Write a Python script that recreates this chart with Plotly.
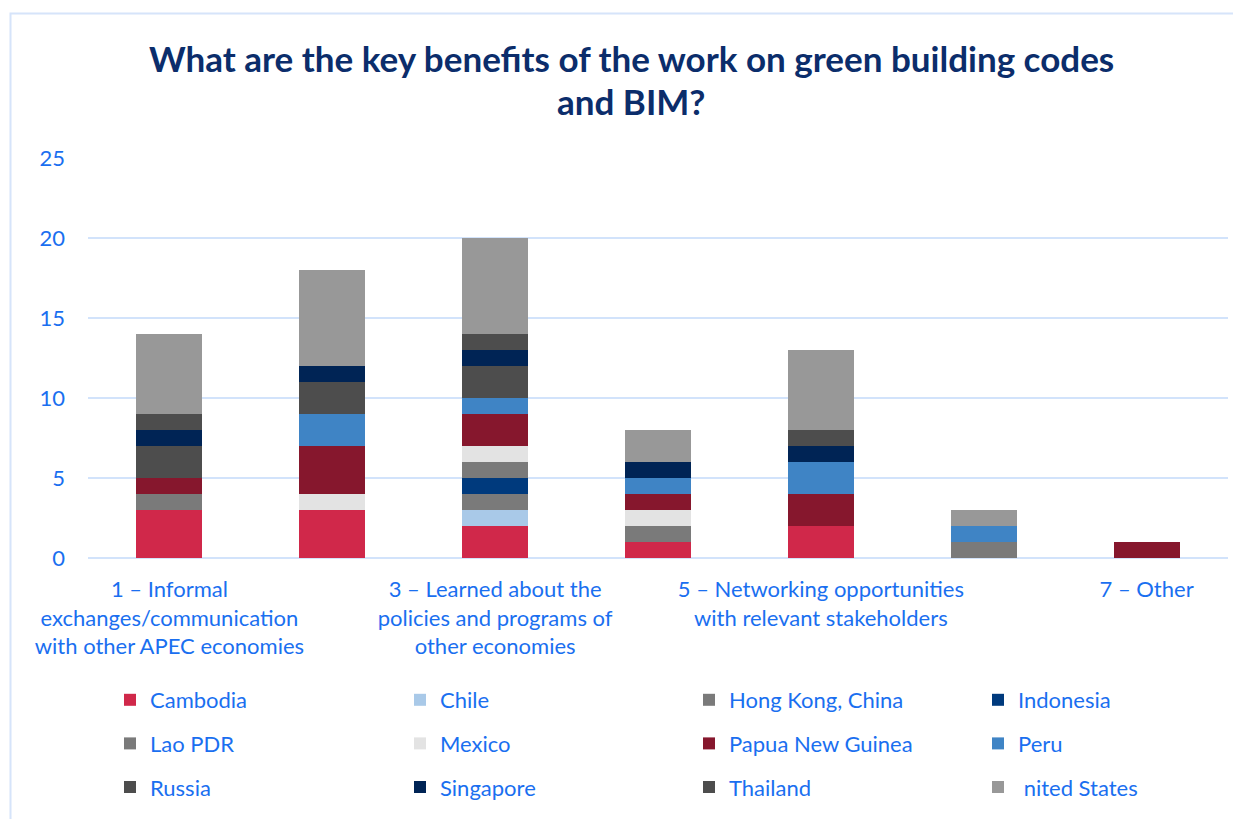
import plotly.graph_objects as go

categories = [
    "1 – Informal exchanges/communication with other APEC economies",
    "2",
    "3 – Learned about the policies and programs of other economies",
    "4",
    "5 – Networking opportunities with relevant stakeholders",
    "6",
    "7 – Other",
]
tick_labels = [
    "1 – Informal<br>exchanges/communication<br>with other APEC economies",
    "",
    "3 – Learned about the<br>policies and programs of<br>other economies",
    "",
    "5 – Networking opportunities<br>with relevant stakeholders",
    "",
    "7 – Other",
]
title_lines = ["What are the key benefits of the work on green building codes", "and BIM?"]

series_names = ["Cambodia", "Chile", "Hong Kong, China", "Indonesia", "Lao PDR", "Mexico",
                "Papua New Guinea", "Peru", "Russia", "Singapore", "Thailand", " nited States"]

cambodia  = [3, 3, 2, 1, 2, 0, 0]
chile     = [0, 0, 1, 0, 0, 0, 0]
hongkong  = [1, 0, 1, 1, 0, 1, 0]
indonesia = [0, 0, 1, 0, 0, 0, 0]
laopdr    = [0, 0, 1, 0, 0, 0, 0]
mexico    = [0, 1, 1, 1, 0, 0, 0]
png       = [1, 3, 2, 1, 2, 0, 1]
peru      = [0, 2, 1, 1, 2, 1, 0]
russia    = [2, 2, 2, 0, 0, 0, 0]
singapore = [1, 1, 1, 1, 1, 0, 0]
thailand  = [1, 0, 1, 0, 1, 0, 0]
usa       = [5, 6, 6, 2, 5, 1, 0]

series_values = [cambodia, chile, hongkong, indonesia, laopdr, mexico,
                 png, peru, russia, singapore, thailand, usa]
colors = ["#D0284A", "#A9C9E8", "#7A7A7A", "#003A7D", "#7A7A7A", "#E3E3E3",
          "#86172D", "#3F84C5", "#4D4D4D", "#002455", "#4D4D4D", "#989898"]

BLUE = "#1A6FF0"
NAVY = "#0B2D6B"
FONT = "Lato"

# page body has an 8px margin: figure coords = screen coords - 8
OFF = 8
W, H = 1241 - OFF, 819 - OFF
PL, PR, PT, PB = 88 - OFF, 1228 - OFF, 158 - OFF, 558 - OFF  # plot area in figure px
L, R, T, B = PL, W - PR, PT, H - PB
pw, ph = PR - PL, PB - PT

legend_ids = ["legend", "legend2", "legend3", "legend4"]

fig = go.Figure()
for i, (name, vals, col) in enumerate(zip(series_names, series_values, colors)):
    fig.add_trace(go.Bar(x=categories, y=vals, name=name, marker_color=col,
                         marker_line_width=0, legend=legend_ids[i % 4],
                         legendgroup=name))

def px_x(s):
    return (s - OFF - PL) / pw

def px_y(s):
    return (PB - (s - OFF)) / ph

legend_cols = [110, 400, 689, 978]   # screen px
legend_top = 679                      # screen px
layout_legends = {}
for lid, xs in zip(legend_ids, legend_cols):
    layout_legends[lid] = dict(
        orientation="v", xref="container", yref="container",
        x=(xs - OFF) / W, xanchor="left", y=1 - (legend_top - OFF) / H, yanchor="top",
        traceorder="grouped", tracegroupgap=12, bgcolor="rgba(0,0,0,0)",
        font=dict(size=22, color=BLUE, family=FONT), itemwidth=30,
    )

title_y = [58, 101]  # screen px, line centers
annotations = [
    dict(text=t, xref="paper", yref="paper", x=px_x(631), y=px_y(yy),
         xanchor="center", yanchor="middle", showarrow=False,
         font=dict(family=FONT, size=35, color=NAVY, weight="bold"))
    for t, yy in zip(title_lines, title_y)
]

fig.update_layout(
    width=W, height=H,
    margin=dict(l=L, r=R, t=T, b=B, autoexpand=False),
    barmode="stack",
    bargap=0.595,
    plot_bgcolor="white",
    paper_bgcolor="white",
    font=dict(family=FONT, color=BLUE, size=22),
    annotations=annotations,
    xaxis=dict(
        tickmode="array", tickvals=categories, ticktext=tick_labels,
        showgrid=False, showline=False, ticks="", tickangle=0, automargin=False,
        tickfont=dict(size=22, color=BLUE, family=FONT),
        ticklabelstandoff=16,
    ),
    yaxis=dict(
        range=[0, 25], tickvals=[0, 5, 10, 15, 20, 25], automargin=False,
        showgrid=True, gridcolor="#D2E3FB", gridwidth=2,
        zeroline=True, zerolinecolor="#D2E3FB", zerolinewidth=2,
        showline=False, ticks="",
        tickfont=dict(size=22, color=BLUE, family=FONT),
        ticklabelstandoff=22,
    ),
    shapes=[dict(
        type="rect", xref="paper", yref="paper",
        x0=px_x(10.5), x1=px_x(1260), y0=px_y(840), y1=px_y(13.5),
        line=dict(color="#D6E4FA", width=2), fillcolor="rgba(0,0,0,0)", layer="below",
    )],
    **layout_legends,
)

fig.write_html("out.html")
